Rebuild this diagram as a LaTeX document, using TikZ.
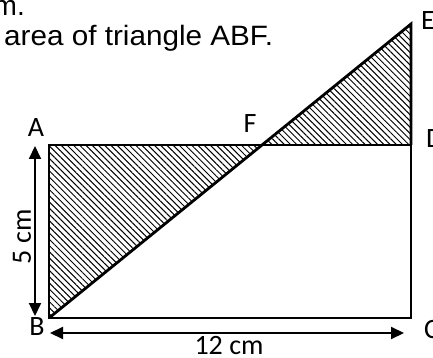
\documentclass[tikz,border=0pt]{standalone}
\usepackage{fontspec}
\setmainfont{Carlito}
\newfontfamily\arialfont{Liberation Sans}
\usetikzlibrary{patterns.meta,arrows.meta}
\begin{document}
\begin{tikzpicture}[x=1pt,y=-1pt,
  lbl/.style={font=\fontsize{28}{32}\selectfont, inner sep=0pt},
  qtext/.style={font=\arialfont\fontsize{28}{32}\selectfont, inner sep=0pt},
  edge/.style={line width=2.8pt},
  hatch/.style={pattern={Lines[angle=-45,distance=4.4pt,line width=1pt]}},
  dim/.style={line width=2pt, {Triangle[length=13pt,width=12pt]}-{Triangle[length=13pt,width=12pt]}}]
\useasboundingbox (0,0) rectangle (433,358);
% points
\coordinate (A) at (49,145);
\coordinate (B) at (49,318);
\coordinate (C) at (411,318);
\coordinate (D) at (411,145);
\coordinate (E) at (411,24);
\coordinate (F) at (262,145);
% hatched triangles
\fill[hatch] (A) -- (B) -- (F) -- cycle;
\fill[hatch] (F) -- (E) -- (D) -- cycle;
% outlines
\draw[edge] (A) -- (D) -- (C) -- (B) -- cycle;
\draw[edge] (B) -- (E) -- (D);
% dimension arrows
\coordinate (v1) at (35,146);
\coordinate (v2) at (35,316);
\coordinate (h1) at (50,333);
\coordinate (h2) at (404,333);
\draw[dim] (v1) -- (v2);
\draw[dim] (h1) -- (h2);
% labels
\node[lbl] (lA) at (36,128) {A};
\node[lbl] (lB) at (37,327) {B};
\node[lbl] (lF) at (250,124) {F};
\node[lbl, anchor=west] (lE) at (421,21) {E};
\node[lbl, anchor=west] (lD) at (426,139) {D};
\node[lbl, anchor=west] (lC) at (424,330) {C};
\node[lbl] (l12) at (229,346) {12 cm};
\node[lbl, rotate=90] (l5) at (22,237) {5 cm};
% question text
\node[qtext, anchor=base east] (t1) at (25,16) {m.};
\node[qtext, anchor=base west] (t2) at (4,46) {\scalebox{1.06}[1]{area of triangle ABF.}};
\end{tikzpicture}
\end{document}
